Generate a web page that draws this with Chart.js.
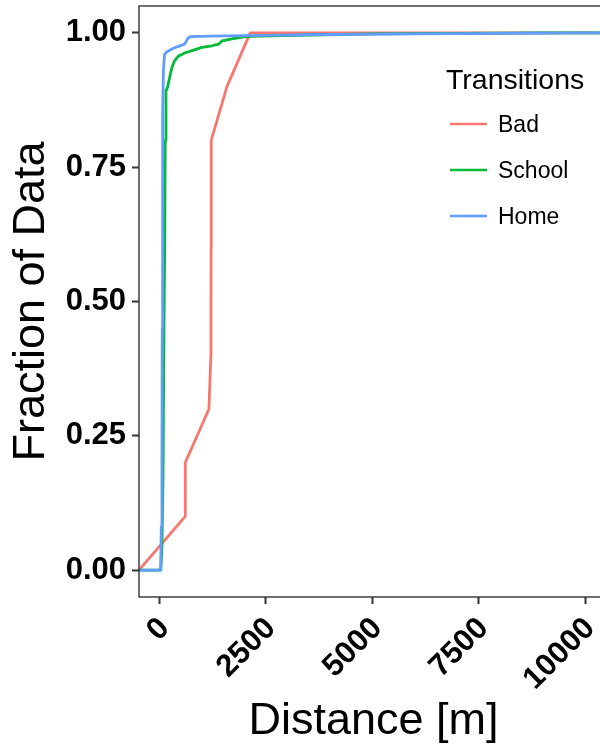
<!DOCTYPE html>
<html lang="en">
<head>
<meta charset="UTF-8">
<title>Distance ECDF by transition</title>
<script src="https://cdn.jsdelivr.net/npm/chart.js"></script>
<style>
  html, body { margin: 0; padding: 0; background: #fff; overflow: hidden; }
</style>
</head>
<body>
<canvas id="ecdfChart" width="620" height="751"></canvas>
<script>
  // axis limits and breaks
  const xLimits = [-484, 10540];
  const yLimits = [-0.05, 1.05];
  const xTickValues = [0, 2500, 5000, 7500, 10000];
  const yTickValues = [0, 0.25, 0.5, 0.75, 1];

  const seriesNames = ['Bad', 'School', 'Home'];
  const seriesColors = ['#F8766D', '#00BA38', '#619CFF'];

  // cumulative fraction of trips vs distance (m)
  const badDist = [604, 604, 1160, 1205, 1208, 1210, 1212, 1214, 1583, 2130];
  const badFrac = [0.1, 0.2, 0.3, 0.4, 0.5, 0.6, 0.7, 0.8, 0.9, 1.0];

  const schoolDist = [30, 56, 80, 103, 120, 132, 150, 188, 235, 291, 352, 446, 604, 799, 996, 1231, 1386, 1466, 1701, 2013, 2326, 3500, 5000, 7000, 9000];
  const schoolFrac = [0, 0.045, 0.17, 0.45, 0.6, 0.8, 0.892, 0.899, 0.917, 0.936, 0.948, 0.957, 0.963, 0.968, 0.973, 0.976, 0.979, 0.985, 0.989, 0.993, 0.994, 0.996, 0.998, 0.999, 1.0];

  const homeDist = [23, 40, 56, 62, 70, 75, 90, 117, 174, 291, 409, 587, 667, 721, 1200, 2013, 4000, 6000, 8000, 10039];
  const homeFrac = [0, 0.08, 0.2, 0.45, 0.6, 0.85, 0.93, 0.96, 0.965, 0.97, 0.974, 0.979, 0.99, 0.993, 0.994, 0.995, 0.997, 0.998, 0.999, 1.0];

  const FONT = "'Liberation Sans', Arial, Helvetica, sans-serif";

  // step curve padded out to both panel edges, like stat_ecdf
  function ecdfPoints(dist, frac) {
    const pts = dist.map((d, i) => ({ x: d, y: frac[i] }));
    pts.unshift({ x: xLimits[0], y: 0 });
    pts.push({ x: xLimits[1], y: 1 });
    return pts;
  }

  const allDist = [badDist, schoolDist, homeDist];
  const allFrac = [badFrac, schoolFrac, homeFrac];

  const datasets = seriesNames.map((name, i) => ({
    label: name,
    data: ecdfPoints(allDist[i], allFrac[i]),
    borderColor: seriesColors[i],
    borderWidth: 2.8,
    pointRadius: 0,
    tension: 0,
    fill: false,
    borderJoinStyle: 'round',
    // later groups drawn on top
    order: seriesNames.length - i
  }));

  // panel border, drawn over the curves
  const panelFrame = {
    id: 'panelFrame',
    afterDatasetsDraw(chart) {
      const { ctx, chartArea: a } = chart;
      ctx.save();
      ctx.strokeStyle = '#333333';
      ctx.lineWidth = 1.4;
      ctx.strokeRect(a.left, a.top, a.right - a.left, a.bottom - a.top);
      ctx.restore();
    }
  };

  // legend box inside the panel
  const legendInside = {
    id: 'legendInside',
    afterDraw(chart) {
      const ctx = chart.ctx;
      ctx.save();
      ctx.fillStyle = '#000';
      ctx.textBaseline = 'alphabetic';
      ctx.font = '28.5px ' + FONT;
      ctx.fillText('Transitions', 446, 89);
      ctx.font = '23px ' + FONT;
      ctx.textBaseline = 'middle';
      chart.data.datasets.forEach((ds, i) => {
        const y = 124 + i * 46;
        ctx.strokeStyle = ds.borderColor;
        ctx.lineWidth = 2.6;
        ctx.beginPath();
        ctx.moveTo(450, y);
        ctx.lineTo(487, y);
        ctx.stroke();
        ctx.fillText(ds.label, 498, y + 1.5);
      });
      ctx.restore();
    }
  };

  const tickGrid = {
    drawOnChartArea: false,
    drawTicks: true,
    tickLength: 7,
    tickWidth: 2,
    tickColor: '#333333'
  };

  new Chart(document.getElementById('ecdfChart'), {
    type: 'line',
    data: { datasets: datasets },
    options: {
      responsive: false,
      animation: false,
      layout: { padding: { top: 6, right: 12, bottom: 0, left: 0 } },
      plugins: { legend: { display: false }, tooltip: { enabled: false } },
      scales: {
        x: {
          type: 'linear',
          min: xLimits[0],
          max: xLimits[1],
          grid: tickGrid,
          border: { display: false },
          afterBuildTicks(scale) { scale.ticks = xTickValues.map(v => ({ value: v })); },
          afterFit(scale) {
            scale.height = 154;
            scale.paddingLeft = 0;
            scale.paddingRight = 0;
          },
          ticks: {
            minRotation: 45,
            maxRotation: 45,
            padding: 9,
            labelOffset: 5,
            color: '#000',
            font: { family: FONT, size: 31, weight: 'bold', lineHeight: 0.95 },
            callback: v => String(v)
          },
          title: {
            display: true,
            text: 'Distance [m]',
            color: '#000',
            font: { family: FONT, size: 45 },
            padding: { top: 0, bottom: 2 }
          }
        },
        y: {
          min: yLimits[0],
          max: yLimits[1],
          grid: tickGrid,
          border: { display: false },
          afterBuildTicks(scale) { scale.ticks = yTickValues.map(v => ({ value: v })); },
          afterFit(scale) {
            scale.width = 139;
            scale.paddingTop = 0;
            scale.paddingBottom = 0;
          },
          ticks: {
            padding: 6,
            color: '#000',
            font: { family: FONT, size: 31, weight: 'bold' },
            callback: v => v.toFixed(2)
          },
          title: {
            display: true,
            text: 'Fraction of Data',
            color: '#000',
            font: { family: FONT, size: 45 },
            padding: { top: 5, bottom: 0 }
          }
        }
      }
    },
    plugins: [panelFrame, legendInside]
  });
</script>
</body>
</html>
